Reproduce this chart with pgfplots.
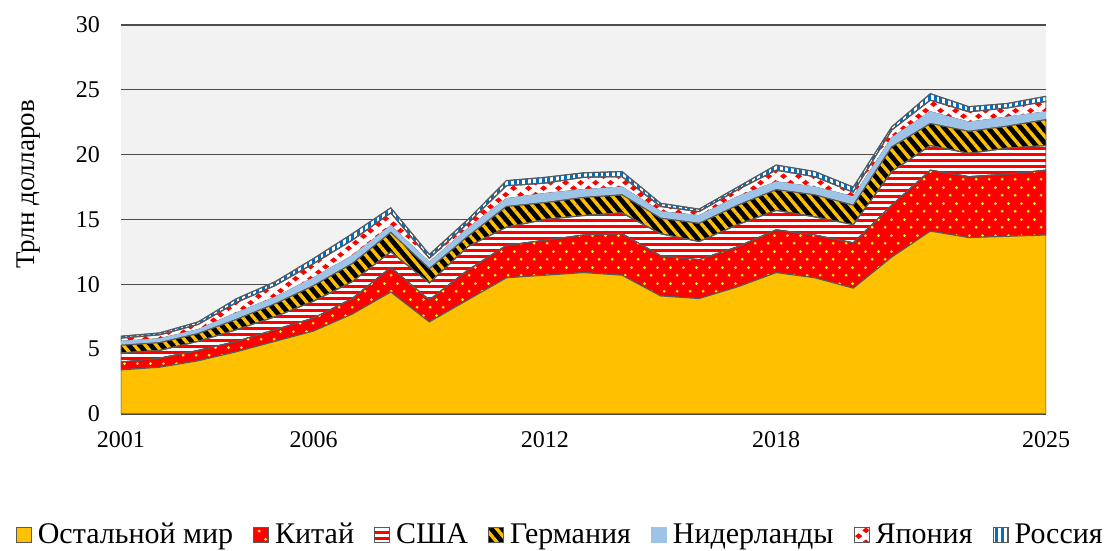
\documentclass[border=0pt]{standalone}
\usepackage{fontspec}
\setmainfont{Liberation Serif}
\usepackage{pgfplots}
\usepackage{pgfplotstable}
\pgfplotsset{compat=1.18}
\usetikzlibrary{patterns,patterns.meta}

\definecolor{restgold}{RGB}{255,192,0}
\definecolor{chinared}{RGB}{255,0,0}
\definecolor{dotyellow}{RGB}{255,255,0}
\definecolor{nlblue}{RGB}{157,195,230}
\definecolor{rublue}{RGB}{0,112,192}
\definecolor{bggray}{RGB}{242,242,242}

% sparse dots for China
\tikzdeclarepattern{
  name=chinadots,
  type=uncolored,
  bottom left={(0pt,0pt)},
  top right={(6.4pt,8pt)},
  tile size={(6.4pt,8pt)},
  code={
    \fill (1.6pt,2pt) circle (0.8pt);
    \fill (4.8pt,6pt) circle (0.8pt);
  }
}
% diamonds for Japan
\tikzdeclarepattern{
  name=japandiamonds,
  type=uncolored,
  bottom left={(0pt,0pt)},
  top right={(7.5pt,6pt)},
  tile size={(7.5pt,6pt)},
  code={
    \fill (1.9pt,0pt) -- (3.8pt,1.5pt) -- (1.9pt,3pt) -- (0pt,1.5pt) -- cycle;
    \fill (5.65pt,3pt) -- (7.5pt,4.5pt) -- (5.65pt,6pt) -- (3.8pt,4.5pt) -- cycle;
  }
}

\pgfplotstableread{
year rest china usa germany nl japan russia
2001 3.4 0.6 0.7 0.6 0.3 0.25 0.15
2002 3.6 0.7 0.6 0.6 0.3 0.3 0.15
2003 4.1 0.8 0.7 0.6 0.3 0.4 0.2
2004 4.8 0.8 0.9 0.8 0.5 0.8 0.3
2005 5.6 0.9 1.0 1.0 0.5 0.9 0.3
2006 6.4 1.0 1.3 1.2 0.6 1.1 0.4
2007 7.7 1.2 1.3 1.4 0.6 1.2 0.5
2008 9.4 1.9 1.2 1.5 0.5 1.0 0.4
2009 7.1 1.7 1.3 1.1 0.5 0.3 0.3
2010 8.8 2.3 1.8 0.8 0.6 0.4 0.3
2011 10.5 2.5 1.4 1.6 0.6 1.0 0.4
2012 10.7 2.7 1.6 1.3 0.7 0.8 0.45
2013 10.9 2.9 1.5 1.4 0.6 0.95 0.35
2014 10.7 3.2 1.6 1.4 0.6 0.8 0.4
2015 9.1 3.1 1.7 1.2 0.5 0.4 0.25
2016 8.9 3.0 1.4 1.4 0.6 0.3 0.2
2017 9.8 3.1 1.7 1.5 0.65 0.55 0.2
2018 10.9 3.3 1.5 1.6 0.6 0.9 0.4
2019 10.5 3.3 1.4 1.7 0.6 0.8 0.4
2020 9.7 3.5 1.4 1.5 0.65 0.35 0.4
2021 12.1 4.0 2.6 1.9 0.7 0.6 0.25
2022 14.1 4.7 1.9 1.7 0.9 0.9 0.5
2023 13.6 4.7 1.8 1.7 0.7 0.8 0.4
2024 13.7 4.8 2.0 1.7 0.7 0.7 0.35
2025 13.8 5.0 1.9 2.0 0.6 0.8 0.4
}\exports

\begin{document}
\begin{tikzpicture}
\useasboundingbox (-60.5pt,-68.5pt) rectangle (491.5pt,207pt);
\begin{axis}[
  scale only axis,
  width=462.5pt,
  height=194.5pt,
  xmin=2001, xmax=2025,
  ymin=0, ymax=30,
  stack plots=y,
  xtick={2001,2006,2012,2018,2025},
  xticklabels={2001,2006,2012,2018,2025},
  ytick={0,5,10,15,20,25,30},
  major tick length=0pt,
  /pgf/number format/assume math mode=true,
  yticklabel style={font=\fontsize{12}{14}\selectfont, xshift=-7pt},
  xticklabel style={font=\fontsize{12}{14}\selectfont, yshift=-5pt},
  axis line style={draw=none},
  axis background/.style={fill=bggray},
  ymajorgrids=true,
  grid style={black!70, line width=0.6pt},
  ylabel={Трлн долларов},
  ylabel style={at={(axis description cs:-0.1,0.59)}, anchor=center, font=\fontsize{13.5}{15}\selectfont},
  legend image code/.code={\draw[#1, line width=0.5pt] (0pt,-3.75pt) rectangle (7.5pt,3.75pt);},
  legend style={at={(0.476,-0.311)}, anchor=center, draw=none, fill=none,
    legend columns=-1, font=\fontsize{15}{17}\selectfont,
    /tikz/every odd column/.append style={column sep=1pt},
    /tikz/every even column/.append style={column sep=8pt}},
  every axis plot/.append style={draw=black!65, line width=0.5pt},
]
\addplot[fill=restgold] table[x=year,y=rest] {\exports} \closedcycle;
\addplot[fill=chinared, postaction={pattern=chinadots, pattern color=dotyellow}] table[x=year,y=china] {\exports} \closedcycle;
\addplot[fill=white, postaction={pattern={Lines[angle=0,distance=3pt,line width=1.5pt]}, pattern color=chinared}] table[x=year,y=usa] {\exports} \closedcycle;
\addplot[fill=black, postaction={pattern={Lines[angle=-50,distance=4.2pt,line width=1.7pt]}, pattern color=restgold}] table[x=year,y=germany] {\exports} \closedcycle;
\addplot[fill=nlblue, draw=nlblue] table[x=year,y=nl] {\exports} \closedcycle;
\addplot[fill=white, postaction={pattern=japandiamonds, pattern color=chinared}] table[x=year,y=japan] {\exports} \closedcycle;
\addplot[fill=white, postaction={pattern={Lines[angle=90,distance=2.8pt,line width=1.4pt]}, pattern color=rublue}] table[x=year,y=russia] {\exports} \closedcycle;
\legend{Остальной мир,Китай,США,Германия,Нидерланды,Япония,Россия}
\end{axis}
\end{tikzpicture}
\end{document}
